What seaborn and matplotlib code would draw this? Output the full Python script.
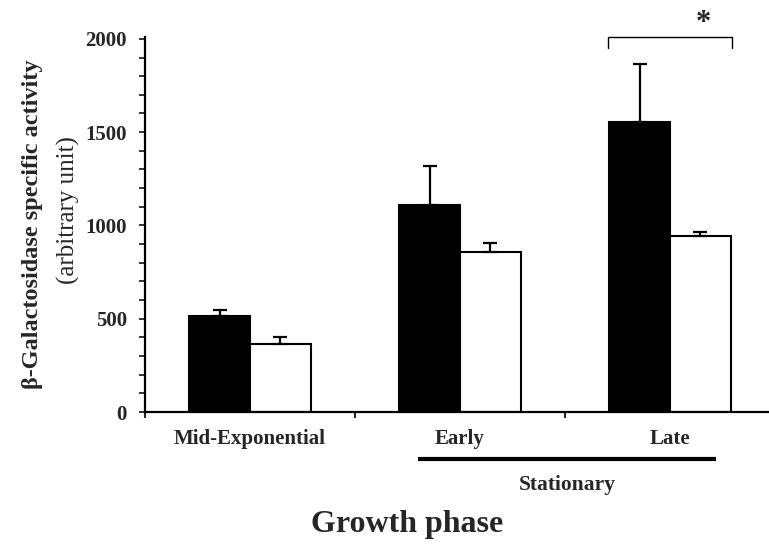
import matplotlib
matplotlib.use("Agg")
import matplotlib.pyplot as plt
from matplotlib.ticker import MultipleLocator
import pandas as pd
import seaborn as sns

# --- DATA ---
phases = ["Mid-Exponential", "Early", "Late"]
series = ["strain_1", "strain_2"]
mean_1 = [515, 1110, 1556]
mean_2 = [365, 858, 944]
err_1 = [32, 209, 310]
err_2 = [37, 48, 21]

df = pd.DataFrame({
    "phase": phases * 2,
    "series": [series[0]] * 3 + [series[1]] * 3,
    "activity": mean_1 + mean_2,
})
errs = {series[0]: err_1, series[1]: err_2}

sns.set_theme(style="ticks")
plt.rcParams["font.family"] = ["Liberation Serif", "DejaVu Serif"]

fig = plt.figure(figsize=(7.69, 5.52), dpi=100)
ax = fig.add_axes([145 / 769, 1 - 412 / 552, 1 - 145 / 769, 375 / 552])

sns.barplot(data=df, x="phase", y="activity", hue="series", order=phases,
            hue_order=series, palette=["black", "white"], width=0.58,
            edgecolor="black", linewidth=1.5, errorbar=None, legend=False, ax=ax)

# upward-only error bars
for cont, s in zip(ax.containers, series):
    for bar, e in zip(cont, errs[s]):
        xc = bar.get_x() + bar.get_width() / 2
        ax.errorbar(xc, bar.get_height(), yerr=[[0], [e]], fmt="none",
                    ecolor="black", elinewidth=1.6, capsize=5, capthick=1.6)

ax.set_xlim(-0.5, (769 - 250) / 210)
ax.set_ylim(0, 2010)
ax.yaxis.set_major_locator(MultipleLocator(500))
ax.yaxis.set_minor_locator(MultipleLocator(100))
ax.set_xticks([-0.5, 0.5, 1.5], minor=True)
ax.tick_params(axis="x", which="major", length=0, pad=12, labelsize=15)
ax.tick_params(axis="x", which="minor", length=4, width=1.5, direction="out")
ax.tick_params(axis="y", which="both", length=4, width=1.3, direction="out",
               labelsize=15, pad=9)
for lab in ax.get_xticklabels() + ax.get_yticklabels():
    lab.set_fontweight("bold")
sns.despine(ax=ax)
for sp in ("left", "bottom"):
    ax.spines[sp].set_linewidth(1.6)
    ax.spines[sp].set_color("black")
ax.set_xlabel("")
ax.set_ylabel("")

# stationary bracket under Early/Late
tr = ax.get_xaxis_transform()
ax.plot([0.8, 2.22], [-0.125, -0.125], color="black", lw=3, transform=tr,
        clip_on=False, solid_capstyle="butt")
ax.text(1.51, -0.195, "Stationary", transform=tr, ha="center", va="center",
        fontsize=15.5, fontweight="bold")
ax.text(0.75, -0.30, "Growth phase", transform=tr, ha="center", va="center",
        fontsize=23, fontweight="bold")

# significance bracket
ax.plot([1.705, 1.705, 2.295, 2.295], [1952, 2011, 2011, 1952], color="black",
        lw=1, clip_on=False)
ax.text(2.157, 2085, "*", ha="center", va="center", fontsize=22,
        fontweight="bold")

# y label in two lines
fig.text(33 / 769, 1 - 224 / 552, "β-Galactosidase specific activity",
         rotation=90, ha="center", va="center", fontsize=17.5, fontweight="bold")
fig.text(68 / 769, 1 - 210 / 552, "(arbitrary unit)", rotation=90,
         ha="center", va="center", fontsize=18)

fig.savefig("out.png", dpi=100)
